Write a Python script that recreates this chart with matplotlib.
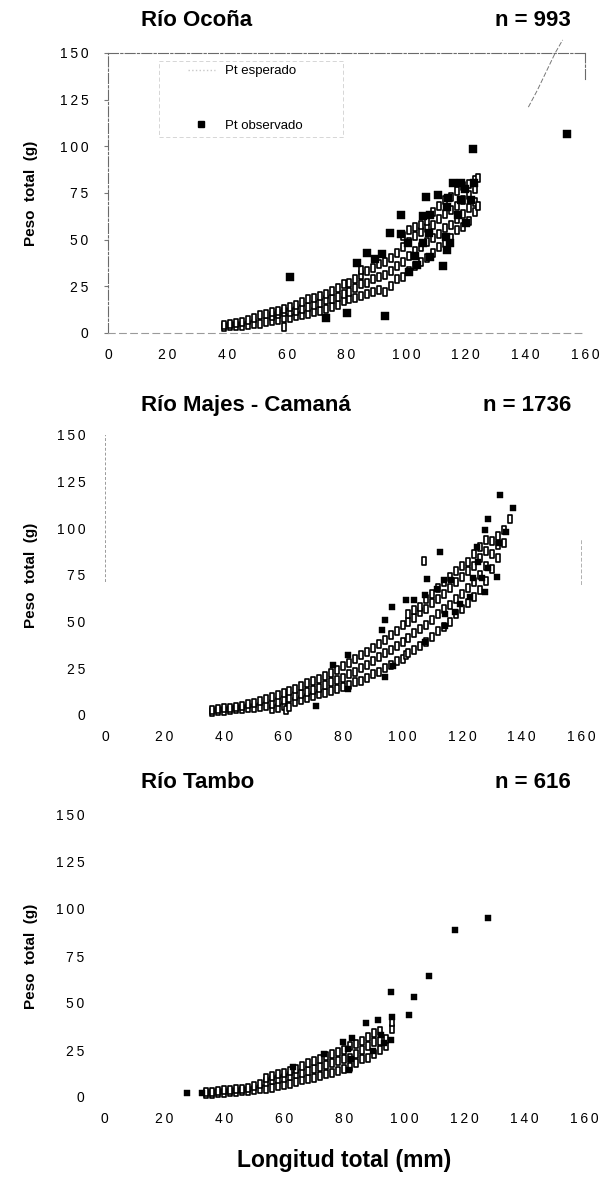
import matplotlib
matplotlib.use("Agg")
import matplotlib.pyplot as plt
from matplotlib.lines import Line2D
from matplotlib.patches import Rectangle
from matplotlib.path import Path
from matplotlib.ticker import FuncFormatter

# ---------------- data ----------------
# Río Ocoña: expected weights (open squares)
ocona_len_esp = [39, 39, 41, 41, 43, 43, 45, 45, 47, 47, 49, 49, 51, 51, 53, 53,
                 55, 55, 55, 57, 57, 57, 59, 59, 59, 59, 61, 61, 61, 63, 63, 63,
                 65, 65, 65, 67, 67, 67, 69, 69, 69, 71, 71, 71, 73, 73, 73,
                 75, 75, 75, 77, 77, 77, 79, 79, 79, 81, 81, 81, 83, 83, 83,
                 85, 85, 85, 85, 87, 87, 87, 89, 89, 89, 91, 91, 91, 93, 93, 93,
                 95, 95, 95, 97, 97, 97, 99, 99, 99, 99, 101, 101, 101, 101,
                 103, 103, 103, 103, 105, 105, 105, 105, 107, 107, 107, 107,
                 109, 109, 109, 109, 111, 111, 111, 111, 113, 113, 113, 113,
                 115, 115, 115, 115, 117, 117, 117, 117, 119, 119, 119, 119,
                 121, 121, 121, 121, 123, 123, 123, 123, 124, 124]
ocona_w_esp = [3, 4.5, 3.5, 5, 3.5, 5.5, 4, 6, 4.5, 7, 5, 8, 5, 9.5, 6, 10,
               6.5, 9, 11, 7, 10, 12, 3, 8, 11, 13, 8, 11, 14, 9, 12, 15,
               9.5, 13, 16.5, 10, 14, 18, 11, 15, 19, 12, 16, 20, 13, 17.5, 21,
               14, 18, 22.5, 15, 19.5, 24, 17, 21, 26, 18, 22, 27, 19, 24, 29,
               20, 26, 31, 34, 21, 27, 33, 22, 29, 35, 23, 30, 37, 22, 31, 38,
               25, 33, 40, 29, 36, 43, 30, 38, 46, 52, 33, 41, 49, 55,
               36, 44, 52, 57, 38, 46, 54, 58, 40, 49, 56, 60,
               43, 51, 58, 65, 46, 53, 61, 68, 48, 56, 64, 71,
               51, 58, 66, 73, 55, 61, 68, 76, 57, 64, 71, 79,
               60, 67, 74, 80, 65, 70, 77, 82, 68, 83]
# Río Ocoña: observed weights (filled squares)
ocona_len_obs = [61, 73, 80, 93, 83.4, 86.8, 89.4, 91.9, 94.6, 98.3, 98.4, 100.8,
                 100.7, 103.6, 103, 105.6, 105.8, 107.8, 108, 108, 106.7, 110.6,
                 112.5, 113.3, 113.6, 114.8, 113.6, 114.2, 115.6, 118.5, 119.8,
                 118.5, 117.3, 120, 121.8, 122.6, 122.4, 153.9]
ocona_w_obs = [30, 8, 10.7, 9.2, 37.3, 43, 39.4, 42.3, 53.7, 52.8, 63.3, 32.8,
               48.3, 36.4, 41.2, 48.3, 62.6, 53.4, 40.8, 63.2, 73, 73.9,
               36, 51.5, 44.4, 48.3, 67.6, 72.1, 80.1, 80.1, 76.9,
               71.2, 63.2, 58.7, 71.2, 80.1, 98.5, 106.4]
# Río Ocoña: fitted curve segment
ocona_curve_len = [141, 144, 147, 150, 152.5]
ocona_curve_w = [121, 130, 140, 150, 157]

# Río Majes - Camaná
majes_len_esp = [36, 36, 38, 38, 40, 40, 42, 42, 44, 44, 46, 46, 48, 48, 50, 50,
                 52, 52, 54, 54, 56, 56, 56, 58, 58, 58, 60, 60, 60, 61, 62, 62, 62,
                 64, 64, 64, 66, 66, 66, 68, 68, 68, 70, 70, 70, 72, 72, 72,
                 74, 74, 74, 76, 76, 76, 78, 78, 78, 80, 80, 80, 82, 82, 82,
                 84, 84, 84, 86, 86, 86, 88, 88, 88, 90, 90, 90, 92, 92, 92,
                 94, 94, 94, 96, 96, 96, 98, 98, 98, 100, 100, 100, 101.2,
                 102, 102, 102, 102, 104, 104, 104, 104, 106, 106, 106, 106,
                 107.3, 108, 108, 108, 108, 110, 110, 110, 110, 112, 112, 112, 112,
                 114, 114, 114, 114, 116, 116, 116, 116, 118, 118, 118, 118,
                 120, 120, 120, 120, 122, 122, 122, 122, 124, 124, 124, 124,
                 126, 126, 126, 126, 128, 128, 128, 128, 130, 130, 130,
                 132, 132, 132, 134, 134, 136]
majes_w_esp = [1.5, 2.5, 2, 3, 2, 3.5, 2.5, 4, 3, 4.5, 3, 5, 3.5, 6, 4, 6.5,
               4.5, 7.5, 5, 8.5, 3, 6, 9.5, 4, 7, 10.5, 5, 8, 12, 2.5, 4.5, 9, 13,
               7, 10, 14, 8, 11, 15.5, 9, 12.5, 17, 10, 13.5, 18, 11, 14.5, 19.5,
               12, 16, 21, 13, 17.5, 22.5, 14, 19, 24, 15, 20, 26, 16, 22, 28,
               17.5, 23, 30, 18, 25, 32, 20, 27, 34, 22, 29, 36, 23, 31, 38,
               25, 33, 40, 27, 35, 43, 29, 37, 45, 30, 39, 48, 32.4,
               33, 41, 50, 54, 35, 44, 52, 56, 37, 46, 55, 58,
               82.7, 39, 48, 57, 62, 42, 51, 60, 65, 45, 54, 62, 68,
               47, 57, 65, 71, 50, 59, 68, 74, 54, 62, 71, 77,
               57, 65, 74, 80, 60, 68, 77, 82, 63, 71, 80, 86,
               67, 75, 84, 90, 72, 80, 88, 94, 78, 86, 93,
               84, 91, 96, 92, 99, 105]
majes_len_obs = [70.9, 76.7, 81.8, 81.8, 93, 94.1, 94.1, 96.4, 96.9, 101.1, 103.8,
                 107.4, 107.6, 108.1, 111.5, 112.5, 113.8, 114.2, 114.4, 116.2,
                 117.6, 119.3, 122.7, 123.8, 125.2, 125.5, 126.6, 127.6, 127.7,
                 128.7, 128.7, 131.7, 132.6, 132.8, 134.7, 137.3]
majes_w_obs = [4.6, 26.8, 32.1, 13.8, 45.7, 50.9, 20.5, 57.8, 26.4, 61.8, 61.8,
               64.5, 39.3, 72.6, 67.4, 87.5, 72.3, 54, 47.7, 72.3,
               55.3, 59.5, 63.2, 73.6, 90.2, 82, 73.2, 65.8, 98.9,
               78.6, 105, 74.1, 92, 117.9, 98, 110.7]

# Río Tambo
tambo_len_esp = [34, 34, 36, 36, 38, 38, 40, 40, 42, 42, 44, 44, 46, 46, 48, 48,
                 50, 50, 52, 52, 54, 54, 54, 56, 56, 56, 58, 58, 58, 60, 60, 60,
                 62, 62, 62, 64, 64, 64, 66, 66, 66, 68, 68, 68, 70, 70, 70,
                 72, 72, 72, 74, 74, 74, 76, 76, 76, 78, 78, 78, 80, 80, 80,
                 82, 82, 82, 84, 84, 84, 86, 86, 86, 88, 88, 88, 90, 90, 90,
                 92, 92, 92, 94, 94, 96, 96]
tambo_w_esp = [1.5, 2.5, 1.5, 2.5, 2, 3, 2, 3.5, 2.5, 3.5, 2.5, 4, 3, 4.5, 3, 5,
               3.5, 6, 4, 7, 4.5, 8, 10, 5, 9, 11, 6, 9.5, 12, 6.5, 10, 13,
               7, 11, 14, 8, 12, 15, 9, 13, 16.5, 9.5, 14, 18, 10, 15, 19,
               11, 16, 20, 12, 17, 22, 13, 18, 23, 14, 19, 24, 15, 20, 25,
               16, 21, 27, 18, 23, 28, 20, 25, 30, 21, 27, 32, 23, 29, 34,
               25, 30, 35, 27, 31, 36, 40]
tambo_len_obs = [27.7, 32.8, 62.9, 73.2, 79.7, 81.3, 82.6, 82.3, 81.6, 87.4, 89.6,
                 91.3, 92.3, 93.2, 95.6, 95.8, 96.1, 101.6, 103.3, 108.3, 116.9,
                 127.9]
tambo_w_obs = [2, 2, 15.8, 22.7, 29.4, 25.4, 31.6, 20.1, 14.4, 39.2, 24.6,
               41, 33, 28.6, 30.3, 55.7, 42.7, 43.6, 53, 64.4, 88.8, 95]

panel_titles = ["Río Ocoña", "Río Majes - Camaná", "Río Tambo"]
panel_counts = ["n = 993", "n = 1736", "n = 616"]
x_ticks = [0, 20, 40, 60, 80, 100, 120, 140, 160]
y_ticks = [0, 25, 50, 75, 100, 125, 150]

# ---------------- layout ----------------
W, H = 607, 1178
fig = plt.figure(figsize=(W / 100, H / 100), dpi=100)
fig.patch.set_facecolor("white")

SANS = ["Liberation Sans", "DejaVu Sans"]
THIN = "\u2009"

# open marker, slightly taller than wide, as the printed symbols appear
tall_box = Path([(-0.33, -0.5), (0.33, -0.5), (0.33, 0.5), (-0.33, 0.5), (-0.33, -0.5)],
                [Path.MOVETO, Path.LINETO, Path.LINETO, Path.LINETO, Path.CLOSEPOLY])


def add_axes_px(left, right, top, bottom):
    return fig.add_axes([left / W, 1 - bottom / H, (right - left) / W, (bottom - top) / H])


spaced = FuncFormatter(lambda v, p: THIN.join(str(int(round(v)))))

panels = [
    dict(box=(108, 585, 53, 333), title_y=20, size_obs=26, ylab_x=-0.161,
         esp=(ocona_len_esp, ocona_w_esp), obs=(ocona_len_obs, ocona_w_obs)),
    dict(box=(105, 581, 435, 715), title_y=405, size_obs=20, ylab_x=-0.155,
         esp=(majes_len_esp, majes_w_esp), obs=(majes_len_obs, majes_w_obs)),
    dict(box=(104, 584, 815, 1097), title_y=782, size_obs=15, ylab_x=-0.152,
         esp=(tambo_len_esp, tambo_w_esp), obs=(tambo_len_obs, tambo_w_obs)),
]

axes = []
for i, p in enumerate(panels):
    ax = add_axes_px(*p["box"])
    axes.append(ax)
    ax.set_xlim(0, 160)
    ax.set_ylim(0, 150)
    ax.set_xticks(x_ticks)
    ax.set_yticks(y_ticks)
    ax.xaxis.set_major_formatter(spaced)
    ax.yaxis.set_major_formatter(spaced)
    for lab in ax.get_xticklabels() + ax.get_yticklabels():
        lab.set_fontfamily(SANS)
        lab.set_fontsize(10)
    ax.tick_params(axis="x", length=0, pad=11)
    ax.tick_params(axis="y", length=0, pad=14)

    ax.scatter(*p["esp"], marker=tall_box, s=26, facecolors="white", edgecolors="black",
               linewidths=1.2, zorder=3, clip_on=False)
    ax.scatter(*p["obs"], marker="s", s=p["size_obs"], facecolors="black",
               edgecolors="black", linewidths=0.3, zorder=4, clip_on=False)

    ax.set_ylabel("Peso  total  (g)", fontfamily=SANS, fontweight="bold",
                  fontsize=11, va="center")
    ax.yaxis.set_label_coords(p["ylab_x"], 0.5)

    for sp in ax.spines.values():
        sp.set_visible(False)

    fig.text(141 / W, 1 - p["title_y"] / H, panel_titles[i], family=SANS,
             fontweight="bold", fontsize=16, ha="left", va="center")
    fig.text(571 / W, 1 - p["title_y"] / H, panel_counts[i], family=SANS,
             fontweight="bold", fontsize=16, ha="right", va="center")

# Ocoña frame, ticks, fitted curve and legend
ax1 = axes[0]
for side in ["left", "right", "top", "bottom"]:
    sp = ax1.spines[side]
    sp.set_visible(True)
    sp.set_color("#6a6a6a")
    sp.set_linewidth(0.8)
    sp.set_linestyle((0, (9, 2, 2, 2)))
ax1.spines["bottom"].set_color("#9a9a9a")
ax1.spines["bottom"].set_linestyle((0, (6, 4)))
ax1.spines["right"].set_bounds(136, 150)
ax1.tick_params(axis="y", length=3, color="#777777", pad=11)

ax1.plot(ocona_curve_len, ocona_curve_w, color="#777777", lw=0.7,
         ls=(0, (5, 2)), clip_on=False, zorder=2)

ax1.add_patch(Rectangle((0.107, 0.70), 0.386, 0.271, transform=ax1.transAxes,
                        fill=False, edgecolor="#d0d0d0", lw=0.6, ls=(0, (5, 3))))
handles = [
    Line2D([], [], color="#c8c8c8", ls=":", lw=1.0),
    Line2D([], [], marker="s", color="black", ls="none", markersize=5),
]
ax1.legend(handles, ["Pt esperado", "Pt observado"], loc="upper left",
           bbox_to_anchor=(0.168, 0.957), borderaxespad=0, borderpad=0,
           frameon=False, handlelength=2.0, handletextpad=0.8,
           labelspacing=3.2, prop={"family": SANS, "size": 9.5})

# Majes - Camaná faint axis remnants
ax2 = axes[1]
ax2.spines["left"].set_visible(True)
ax2.spines["left"].set_bounds(72, 150)
ax2.spines["left"].set_color("#9a9a9a")
ax2.spines["left"].set_linewidth(0.7)
ax2.spines["left"].set_linestyle((0, (2, 3)))
ax2.spines["right"].set_visible(True)
ax2.spines["right"].set_bounds(70, 95)
ax2.spines["right"].set_color("#b0b0b0")
ax2.spines["right"].set_linewidth(0.7)
ax2.spines["right"].set_linestyle((0, (3, 3)))

fig.text(344 / W, 1 - 1160 / H, "Longitud total (mm)", family=SANS,
         fontweight="bold", fontsize=16.5, ha="center", va="center")

fig.savefig("out.png", dpi=100, facecolor="white")
